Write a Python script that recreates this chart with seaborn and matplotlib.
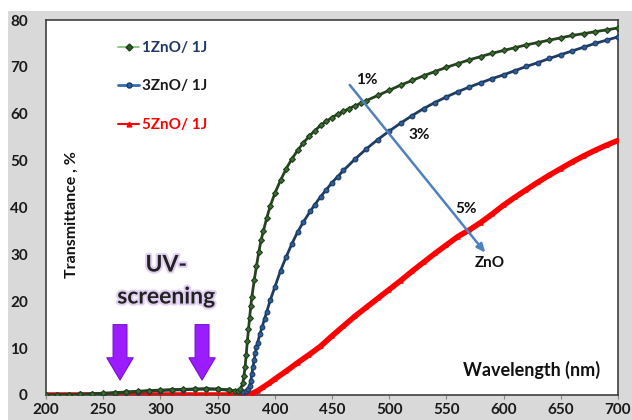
import numpy as np
import pandas as pd
import matplotlib
matplotlib.use("Agg")
import matplotlib.pyplot as plt
import matplotlib.patheffects as pe
from matplotlib.patches import Rectangle
from matplotlib.lines import Line2D
import seaborn as sns

# ---------------- data ----------------
wl_1 = [200, 210, 220, 230, 240, 250, 260, 270, 280, 290, 300, 310, 320, 330, 340, 350, 360, 365, 368,
        370, 372, 373, 374, 375, 376, 377, 378, 379, 380, 382, 384, 386, 388, 390, 393, 396, 400, 405,
        410, 415, 420, 425, 430, 435, 440, 445, 450, 455, 460, 465, 470, 475, 480, 490, 500, 510, 520,
        530, 540, 550, 560, 570, 580, 590, 600, 610, 620, 630, 640, 650, 660, 670, 680, 690, 700]
t_1 = [0.0, 0.05, 0.1, 0.15, 0.25, 0.4, 0.5, 0.65, 0.8, 0.95, 1.05, 1.15, 1.2, 1.3, 1.35, 1.3, 1.1, 0.9, 0.8,
       1.2, 2.5, 4.0, 6.0, 8.5, 11.5, 14.0, 16.5, 19.0, 21.0, 24.5, 27.5, 30.5, 33.0, 35.0, 37.8, 40.3, 43.0, 45.8,
       48.3, 50.4, 52.2, 53.8, 55.2, 56.4, 57.5, 58.4, 59.2, 59.9, 60.5, 61.1, 61.7, 62.2, 62.8, 63.9, 65.0, 66.1, 67.1,
       68.1, 69.0, 69.9, 70.7, 71.5, 72.2, 72.9, 73.5, 74.1, 74.7, 75.2, 75.7, 76.2, 76.7, 77.1, 77.5, 77.9, 78.3]

wl_3 = [200, 210, 220, 230, 240, 250, 260, 270, 280, 290, 300, 310, 320, 330, 340, 350, 360, 370,
        372, 375, 377, 378, 379, 380, 381, 382, 383, 384, 385, 387, 389, 391, 393, 396, 400, 405, 410,
        415, 420, 425, 431, 435, 440, 445, 450, 455, 460, 470, 480, 490, 500, 510, 520, 530, 540, 550,
        560, 570, 580, 590, 600, 610, 620, 630, 640, 650, 660, 670, 680, 690, 700]
t_3 = [0.0, 0.05, 0.1, 0.15, 0.2, 0.3, 0.45, 0.55, 0.7, 0.85, 0.95, 1.05, 1.1, 1.2, 1.25, 1.2, 1.0, 0.8,
       0.7, 0.8, 1.3, 2.0, 3.0, 4.5, 6.0, 7.5, 9.0, 10.2, 11.2, 13.0, 14.6, 16.2, 17.8, 20.2, 23.0, 26.5, 29.5,
       32.3, 34.8, 36.9, 39.2, 40.6, 42.3, 43.8, 45.3, 46.6, 47.9, 50.3, 52.5, 54.5, 56.3, 58.0, 59.6, 61.1, 62.4, 63.6,
       64.7, 65.7, 66.6, 67.5, 68.3, 69.2, 70.1, 70.9, 71.8, 72.6, 73.4, 74.2, 75.0, 75.7, 76.4]

wl_5 = [200, 210, 220, 230, 240, 250, 260, 270, 280, 290, 300, 310, 320, 330, 340, 350, 360, 370,
        375, 380, 385, 390, 395, 400, 410, 420, 430, 440, 450, 460, 470, 480, 490, 500, 510, 520, 530,
        540, 550, 560, 570, 580, 590, 600, 610, 620, 630, 640, 650, 660, 670, 680, 690, 700]
t_5 = [0.0, 0.0, 0.0, 0.0, 0.0, 0.0, 0.0, 0.0, 0.0, 0.0, 0.0, 0.0, 0.0, 0.0, 0.0, 0.0, 0.0, 0.0,
       0.05, 0.3, 0.9, 1.7, 2.5, 3.4, 5.1, 6.9, 8.6, 10.4, 12.6, 14.7, 16.8, 18.7, 20.6, 22.5, 24.4, 26.4, 28.3,
       30.2, 32.0, 33.8, 35.2, 36.8, 38.6, 40.5, 42.2, 43.8, 45.4, 46.9, 48.3, 49.7, 51.0, 52.2, 53.3, 54.3]

series_labels = ["1ZnO/ 1J", "3ZnO/ 1J", "5ZnO/ 1J"]
x_ticks = [200, 250, 300, 350, 400, 450, 500, 550, 600, 650, 700]
y_ticks = [0, 10, 20, 30, 40, 50, 60, 70, 80]

# ---------------- style ----------------
sns.set_style("white")
plt.rcParams["font.family"] = ["Lato", "DejaVu Sans"]
plt.rcParams["font.weight"] = "bold"

W, H = 632, 420
fig = plt.figure(figsize=(W / 100, H / 100), dpi=100, facecolor="#d9d9d9")
# white strips at top and left (outside chart area)
fig.patches.append(Rectangle((0, 1 - 11 / H), 1, 11 / H, transform=fig.transFigure,
                             facecolor="white", edgecolor="none", zorder=-10))
fig.patches.append(Rectangle((0, 0), 8 / W, 1, transform=fig.transFigure,
                             facecolor="white", edgecolor="none", zorder=-10))
ax = fig.add_axes([46 / W, 1 - 395 / H, (618 - 46) / W, (395 - 20) / H])
ax.set_facecolor("white")

df1 = pd.DataFrame({"wl": wl_1, "T": t_1})
df3 = pd.DataFrame({"wl": wl_3, "T": t_3})
df5 = pd.DataFrame({"wl": wl_5, "T": t_5})

sns.lineplot(data=df5, x="wl", y="T", ax=ax, color="#ff0000", lw=4.0, marker="^", markersize=2.5,
             markeredgecolor="#ff0000", markerfacecolor="#ff0000", estimator=None, sort=False, zorder=3)
sns.lineplot(data=df3, x="wl", y="T", ax=ax, color="#1f3c63", lw=2.0, marker="o", markersize=3.4,
             markeredgecolor="#1b3a66", markerfacecolor="#2b5f98", markeredgewidth=0.8,
             estimator=None, sort=False, zorder=4)
sns.lineplot(data=df1, x="wl", y="T", ax=ax, color="#26421f", lw=2.0, marker="D", markersize=3.0,
             markeredgecolor="#1e3d1a", markerfacecolor="#3c6b33", markeredgewidth=0.8,
             estimator=None, sort=False, zorder=5)

ax.set_xlim(200, 700)
ax.set_ylim(0, 80)
ax.set_xticks(x_ticks)
ax.set_yticks(y_ticks)
ax.set_xticklabels([str(v) for v in x_ticks], fontsize=11, fontweight="bold", color="#1a1a1a")
ax.set_yticklabels([str(v) for v in y_ticks], fontsize=11, fontweight="bold", color="#1a1a1a")
ax.tick_params(axis="x", direction="out", length=3, width=0.8, color="#888888", pad=3, bottom=True)
ax.tick_params(axis="y", length=0, pad=13)
ax.set_xlabel("")
ax.set_ylabel("")
for s in ax.spines.values():
    s.set_color("#404040")
    s.set_linewidth(1.2)
    s.set_visible(True)

# axis titles inside plot
ax.text(0.045, 0.48, "Transmittance , %", transform=ax.transAxes, rotation=90,
        ha="center", va="center", fontsize=11.5, fontweight="bold", color="#111111")
ax.text(0.9685, 0.0667, "Wavelength (nm)", transform=ax.transAxes,
        ha="right", va="center", fontsize=13, fontweight="bold", color="#111111")

# UV-screening text with purple glow
glow = [pe.withStroke(linewidth=3, foreground="#e2d0f2")]
ax.text(305, (395 - 265) * 80 / 375, "UV-", ha="center", va="center", fontsize=16.5,
        fontweight="bold", color="#222222", path_effects=glow, zorder=6)
ax.text(305, (395 - 297) * 80 / 375, "screening", ha="center", va="center", fontsize=16.5,
        fontweight="bold", color="#222222", path_effects=glow, zorder=6)

# purple down arrows
for xw in [264.7, 336.4]:
    ax.annotate("", xy=(xw, 2.6), xytext=(xw, 15.6),
                arrowprops=dict(arrowstyle="simple,head_length=16,head_width=19,tail_width=10",
                                mutation_scale=1, facecolor="#9a1cff", edgecolor="#7a10d0", lw=0.8),
                zorder=6)

# blue trend arrow with labels
ax.annotate("", xy=(585.5, 29.9), xytext=(464, 66.6),
            arrowprops=dict(arrowstyle="-|>,head_length=0.5,head_width=0.22", color="#4f81bd", lw=1.8),
            zorder=7)
for txt, xx, yy in [("1%", 480, 67.2), ("3%", 526, 55.5), ("5%", 567, 39.7), ("ZnO", 588, 28.2)]:
    ax.text(xx, yy, txt, ha="center", va="center", fontsize=11, fontweight="bold", color="#111111", zorder=8)

# legend
handles = [
    Line2D([], [], color="#7dbf6a", lw=1.2, marker="D", markersize=3.5,
           markeredgecolor="#1e3d1a", markerfacecolor="#2f5a28"),
    Line2D([], [], color="#2f6fae", lw=2.0, marker="o", markersize=3.6,
           markeredgecolor="#1b3a66", markerfacecolor="#2b5f98"),
    Line2D([], [], color="#ff0000", lw=1.5, marker="^", markersize=3.5,
           markeredgecolor="#ff0000", markerfacecolor="#ff0000"),
]
leg = ax.legend(handles, series_labels, loc="upper left", bbox_to_anchor=((118 - 46) / 572, 1 - 21 / 375),
                frameon=False, handlelength=1.4, handletextpad=0.2, labelspacing=1.6,
                borderpad=0, borderaxespad=0, prop={"weight": "bold", "size": 11})
for t, c in zip(leg.get_texts(), ["#1f3864", "#1a1a1a", "#ff0000"]):
    t.set_color(c)

fig.savefig("out.png", dpi=100, facecolor=fig.get_facecolor())
